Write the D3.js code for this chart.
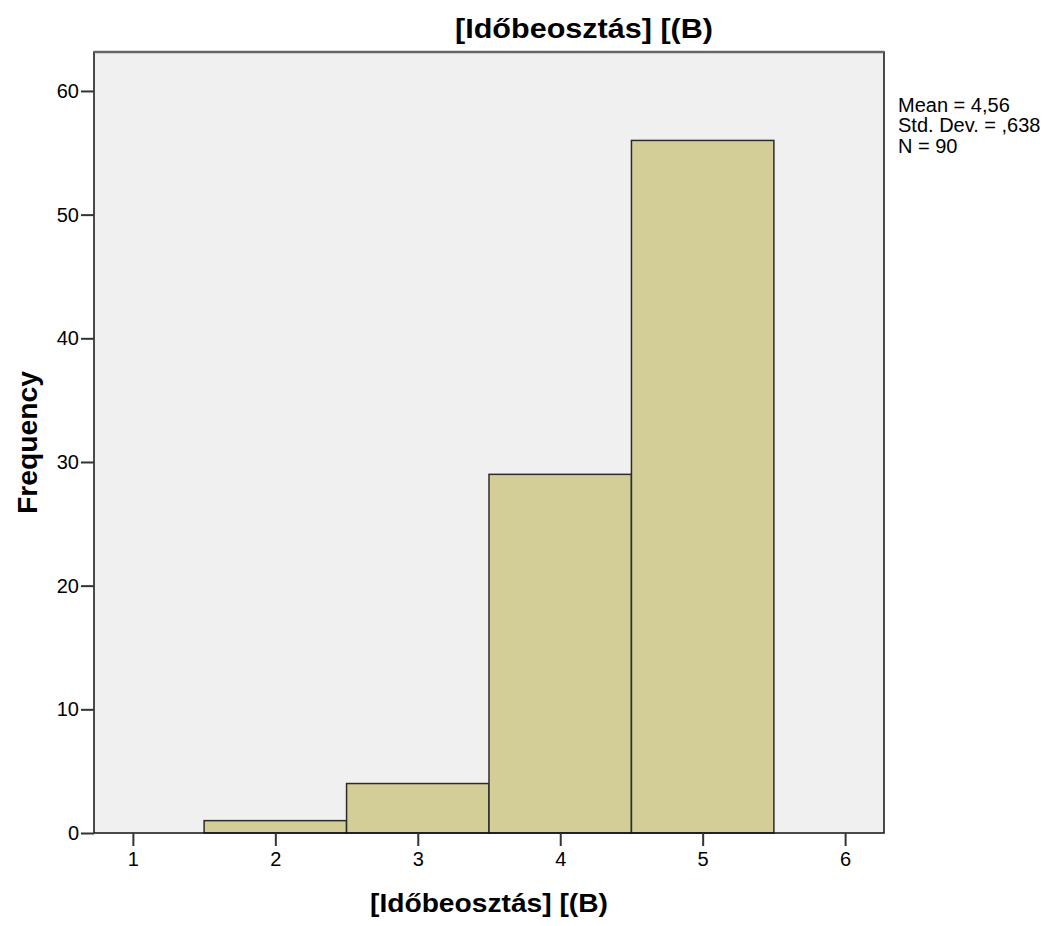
<!DOCTYPE html>
<html>
<head>
<meta charset="utf-8">
<script src="https://cdn.jsdelivr.net/npm/d3@7"></script>
<style>
  html, body { margin: 0; padding: 0; background: #ffffff; }
  svg { display: block; }
  text { font-family: "Liberation Sans", Arial, sans-serif; fill: #000; }
</style>
</head>
<body>
<script>
// ---- data ----
const binCenters = [2, 3, 4, 5];
const binWidth = 1;
const counts = [1, 4, 29, 56];
const xTicks = [1, 2, 3, 4, 5, 6];
const yTicks = [0, 10, 20, 30, 40, 50, 60];
const titleText = "[Időbeosztás] [(B)";
const xLabelText = "[Időbeosztás] [(B)";
const yLabelText = "Frequency";
const statsLines = ["Mean = 4,56", "Std. Dev. = ,638", "N = 90"];

// ---- layout ----
const W = 1051, H = 926;
const plot = { left: 94, right: 884, top: 52, bottom: 833 };

const svg = d3.select("body").append("svg")
  .attr("width", W).attr("height", H);

const x = d3.scaleLinear().domain([0.727, 6.273]).range([plot.left, plot.right]);
const y = d3.scaleLinear().domain([0, 63.15]).range([plot.bottom, plot.top]);

// background
svg.append("rect")
  .attr("x", plot.left).attr("y", plot.top)
  .attr("width", plot.right - plot.left).attr("height", plot.bottom - plot.top)
  .attr("fill", "#f0f0f0");

// bars
svg.append("g").selectAll("rect")
  .data(binCenters.map((c, i) => ({ c, v: counts[i] })))
  .join("rect")
  .attr("x", d => x(d.c - binWidth / 2))
  .attr("y", d => y(d.v))
  .attr("width", d => x(d.c + binWidth / 2) - x(d.c - binWidth / 2))
  .attr("height", d => y(0) - y(d.v))
  .attr("fill", "#d3ce98")
  .attr("stroke", "#2b2b2b")
  .attr("stroke-width", 1.5);

// frame
svg.append("rect")
  .attr("x", plot.left).attr("y", plot.top)
  .attr("width", plot.right - plot.left).attr("height", plot.bottom - plot.top)
  .attr("fill", "none")
  .attr("stroke", "#111")
  .attr("stroke-width", 1.5);
svg.append("line")
  .attr("x1", plot.left).attr("x2", plot.right)
  .attr("y1", plot.top).attr("y2", plot.top)
  .attr("stroke", "#666").attr("stroke-width", 2.5);

// axes
const yAxis = d3.axisLeft(y).tickValues(yTicks).tickSize(13).tickPadding(2).tickFormat(d3.format("d"));
const gy = svg.append("g").attr("transform", `translate(${plot.left},0)`).call(yAxis);
gy.select(".domain").remove();
gy.selectAll(".tick line").attr("stroke", "#333").attr("stroke-width", 2);
gy.selectAll(".tick text").attr("font-size", 20).attr("fill", "#111")
  .style("font-family", '"Liberation Sans", Arial, sans-serif');

const xAxis = d3.axisBottom(x).tickValues(xTicks).tickSize(13).tickPadding(6).tickFormat(d3.format("d"));
const gx = svg.append("g").attr("transform", `translate(0,${plot.bottom})`).call(xAxis);
gx.select(".domain").remove();
gx.selectAll(".tick line").attr("stroke", "#333").attr("stroke-width", 2);
gx.selectAll(".tick text").attr("font-size", 20).attr("fill", "#111")
  .style("font-family", '"Liberation Sans", Arial, sans-serif');

// title
svg.append("text")
  .attr("x", 584).attr("y", 38)
  .attr("text-anchor", "middle")
  .attr("font-size", 28).attr("font-weight", "bold")
  .attr("textLength", 258).attr("lengthAdjust", "spacingAndGlyphs")
  .text(titleText);

// x label
svg.append("text")
  .attr("x", (plot.left + plot.right) / 2).attr("y", 912)
  .attr("text-anchor", "middle")
  .attr("font-size", 26).attr("font-weight", "bold")
  .attr("textLength", 238).attr("lengthAdjust", "spacingAndGlyphs")
  .text(xLabelText);

// y label
svg.append("text")
  .attr("transform", `translate(37,${(plot.top + plot.bottom) / 2}) rotate(-90)`)
  .attr("text-anchor", "middle")
  .attr("font-size", 27).attr("font-weight", "bold")
  .attr("textLength", 143).attr("lengthAdjust", "spacingAndGlyphs")
  .text(yLabelText);

// stats
svg.append("g").selectAll("text")
  .data(statsLines)
  .join("text")
  .attr("x", 898)
  .attr("y", (d, i) => 111.5 + i * 20.5)
  .attr("font-size", 20)
  .text(d => d);
</script>
</body>
</html>
